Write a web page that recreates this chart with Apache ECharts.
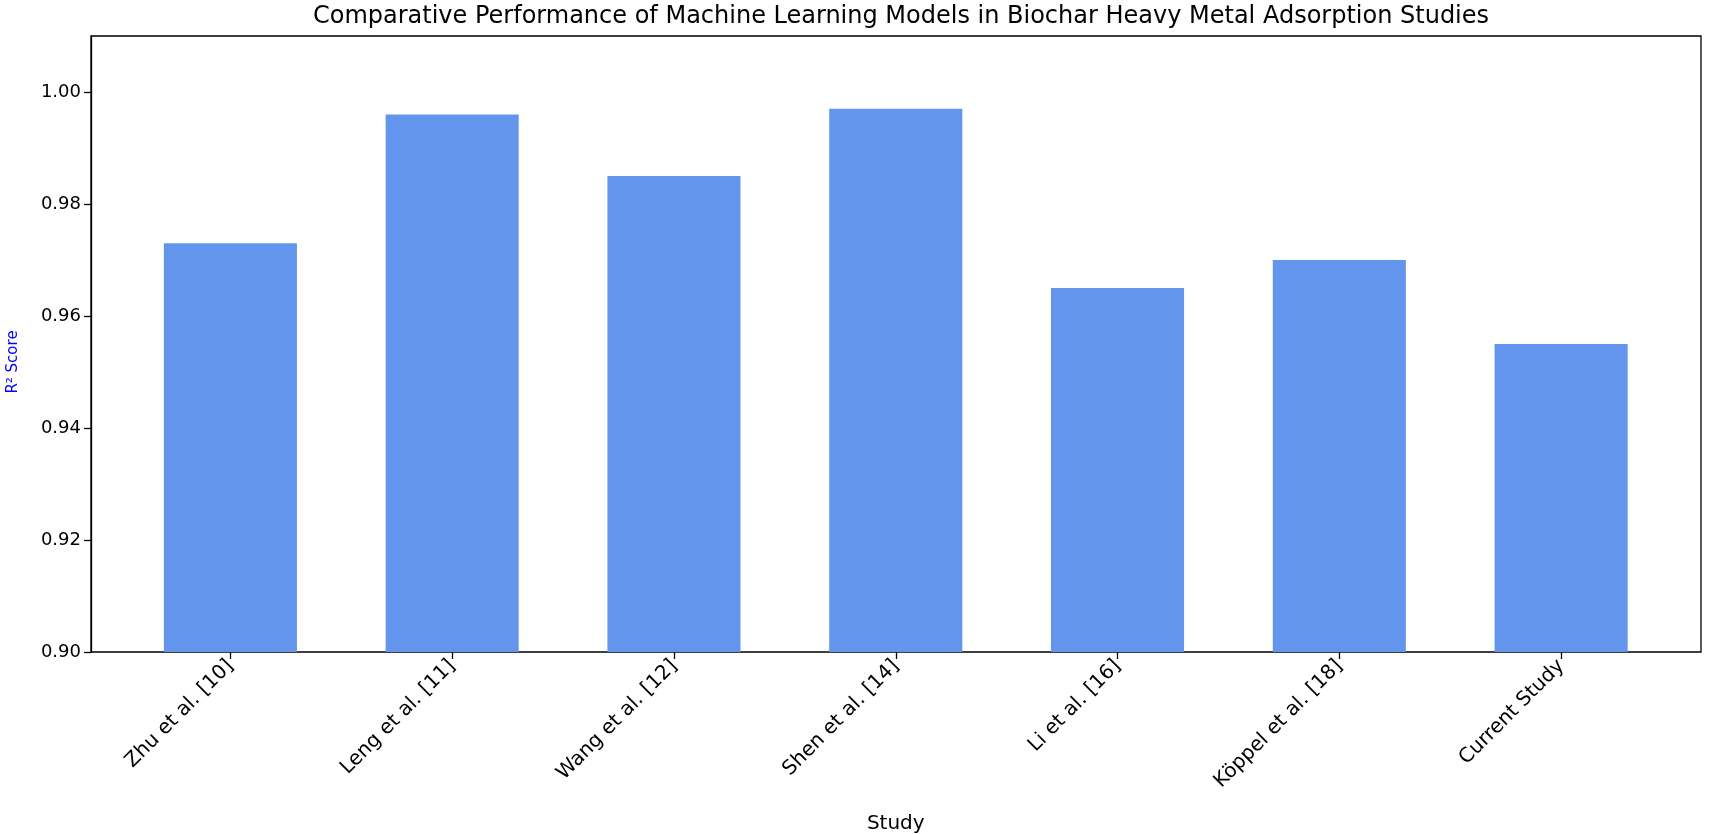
<!DOCTYPE html>
<html>
<head>
<meta charset="utf-8">
<script src="https://cdn.jsdelivr.net/npm/echarts@6/dist/echarts.min.js"></script>
<style>
  html, body { margin: 0; padding: 0; background: #fff; }
  #chart { width: 1709px; height: 834px; }
</style>
</head>
<body>
<div id="chart"></div>
<script>
var studies = ['Zhu et al. [10]', 'Leng et al. [11]', 'Wang et al. [12]', 'Shen et al. [14]', 'Li et al. [16]', 'Köppel et al. [18]', 'Current Study'];
var r2Scores = [0.973, 0.996, 0.985, 0.997, 0.965, 0.970, 0.955];
var yTicks = [0.90, 0.92, 0.94, 0.96, 0.98, 1.00];

var font = 'DejaVu Sans';
var dom = document.getElementById('chart');
var myChart = echarts.init(dom);

option = {
    animation: false,
    backgroundColor: '#fff',
    title: {
        text: 'Comparative Performance of Machine Learning Models in Biochar Heavy Metal Adsorption Studies',
        left: 896,
        textAlign: 'center',
        top: 0,
        textStyle: { fontFamily: font, fontSize: 24, fontWeight: 'normal', color: '#000' }
    },
    grid: [
        // frame + y axis
        { left: 91, top: 36, width: 1610, height: 616, show: true, borderColor: '#000', borderWidth: 1.3,
          backgroundColor: 'transparent', containLabel: false, outerBoundsMode: 'none' },
        // bars (matplotlib-like margins)
        { left: 119.5, top: 36, width: 1552.5, height: 616, containLabel: false, outerBoundsMode: 'none' }
    ],
    xAxis: [
        { gridIndex: 0, type: 'value', show: false, min: 0, max: 1 },
        {
            gridIndex: 1,
            type: 'category',
            data: studies,
            axisLine: { show: false },
            axisTick: { show: true, alignWithLabel: true, length: 7, lineStyle: { color: '#000', width: 1.3 } },
            axisLabel: { rotate: 45, interval: 0, fontFamily: font, fontSize: 20, color: '#000', margin: 11 },
            name: 'Study',
            nameLocation: 'middle',
            nameGap: 162,
            nameTextStyle: { fontFamily: font, fontSize: 20, color: '#000' }
        }
    ],
    yAxis: [
        {
            gridIndex: 0,
            type: 'value',
            min: 0.9,
            max: 1.01,
            axisLine: { show: true, lineStyle: { color: '#000', width: 1.3 } },
            axisTick: { show: true, length: 7, customValues: yTicks, lineStyle: { color: '#000', width: 1.3 } },
            axisLabel: {
                customValues: yTicks,
                fontFamily: font, fontSize: 18, color: '#000', margin: 10,
                formatter: function (v) { return v.toFixed(2); }
            },
            splitLine: { show: false },
            name: 'R² Score',
            nameLocation: 'middle',
            nameGap: 70,
            nameTextStyle: { fontFamily: font, fontSize: 15, color: '#0000ff', padding: [0, 36, 0, 0] }
        },
        { gridIndex: 1, type: 'value', show: false, min: 0.9, max: 1.01, splitLine: { show: false } }
    ],
    series: [
        {
            type: 'bar',
            xAxisIndex: 1,
            yAxisIndex: 1,
            data: r2Scores,
            barWidth: '60%',
            itemStyle: { color: '#6495ED', borderWidth: 0 }
        }
    ]
};
myChart.setOption(option, true);
</script>
</body>
</html>
